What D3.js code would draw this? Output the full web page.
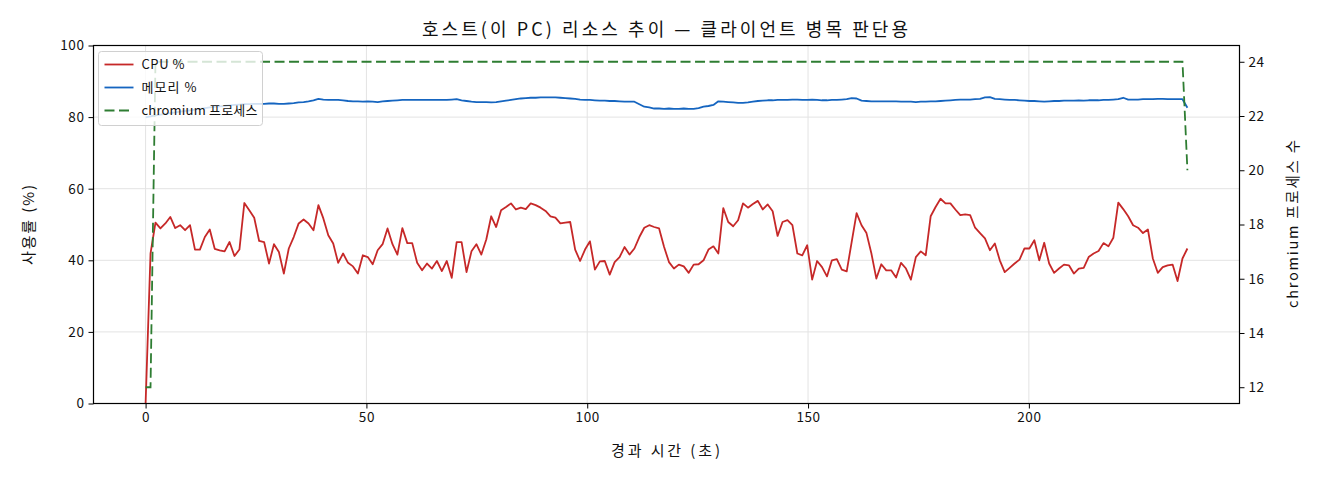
<!DOCTYPE html>
<html>
<head>
<meta charset="utf-8">
<script src="https://cdn.jsdelivr.net/npm/d3@7"></script>
<style>
  body { margin: 0; background: #fff; }
  svg { font-family: "Noto Sans CJK KR", "Noto Sans", sans-serif; }
</style>
</head>
<body>
<svg width="1320" height="480"></svg>
<script>
// seconds between samples (212 samples, 0 .. ~236 s)
let sampleInterval = 1.118;

let cpuPct = [
  0, 41.9, 50.5, 48.9, 50.3, 52.1, 49.0, 49.8, 48.4, 49.8,
  43.0, 43.0, 46.5, 48.6, 43.2, 42.8, 42.5, 45.1, 41.2, 43.0,
  56.0, 54.0, 51.9, 45.4, 45.1, 39.1, 44.5, 42.3, 36.3, 43.3,
  46.5, 50.3, 51.4, 50.3, 48.4, 55.4, 51.7, 47.0, 44.7, 39.3,
  41.9, 39.3, 38.3, 36.3, 41.4, 40.9, 38.9, 42.8, 44.5, 48.9,
  44.5, 41.6, 49.0, 44.8, 44.8, 39.3, 37.2, 39.1, 37.7, 39.8,
  37.0, 39.8, 35.1, 45.1, 45.1, 36.7, 42.5, 44.5, 41.6, 45.8,
  52.3, 49.3, 54.0, 54.9, 55.9, 54.2, 54.7, 54.3, 55.9, 55.4,
  54.7, 53.8, 52.3, 51.9, 50.3, 50.5, 50.7, 43.0, 39.8, 43.0,
  45.3, 37.4, 39.7, 39.8, 36.0, 39.5, 40.9, 43.7, 41.6, 43.3,
  46.5, 49.1, 49.8, 49.3, 48.9, 43.8, 39.5, 37.7, 38.8, 38.3,
  36.5, 38.8, 38.9, 40.0, 43.0, 43.9, 41.9, 54.6, 50.7, 49.5,
  51.2, 55.9, 54.7, 55.7, 56.6, 54.2, 55.6, 53.7, 46.8, 50.7,
  51.2, 49.8, 41.9, 41.4, 44.2, 34.6, 39.8, 38.1, 35.5, 40.0,
  40.3, 37.4, 36.9, 45.1, 53.2, 49.8, 47.6, 41.9, 34.9, 38.9,
  37.2, 37.2, 35.2, 39.3, 37.7, 34.6, 40.9, 42.5, 41.4, 52.3,
  54.9, 57.2, 55.9, 55.9, 54.2, 52.6, 52.8, 52.6, 49.1, 47.6,
  46.1, 42.8, 44.7, 40.0, 36.7, 37.9, 39.1, 40.2, 43.3, 43.3,
  45.6, 40.0, 44.9, 39.1, 36.5, 37.7, 38.8, 38.6, 36.3, 37.7,
  37.9, 40.9, 41.9, 42.6, 44.8, 43.9, 46.3, 56.1, 54.3, 52.3,
  49.8, 49.1, 47.6, 48.6, 40.5, 36.5, 38.1, 38.6, 38.8, 34.2,
  40.5, 43.3
];

let memPct = [
  79.9, 80.2, 80.5, 80.7, 80.9, 81.1, 81.3, 81.5, 81.7, 81.9,
  82.1, 82.3, 82.5, 82.7, 82.9, 83.0, 83.1, 83.3, 83.4, 83.5,
  83.6, 83.6, 83.7, 83.7, 83.7, 83.8, 83.8, 83.7, 83.7, 83.8,
  83.9, 84.1, 84.2, 84.4, 84.7, 85.1, 84.9, 84.8, 84.8, 84.8,
  84.7, 84.5, 84.4, 84.4, 84.3, 84.4, 84.3, 84.2, 84.4, 84.5,
  84.6, 84.7, 84.8, 84.8, 84.8, 84.8, 84.8, 84.8, 84.8, 84.8,
  84.8, 84.8, 84.9, 85.0, 84.7, 84.5, 84.3, 84.2, 84.2, 84.2,
  84.1, 84.2, 84.4, 84.6, 84.8, 85.0, 85.2, 85.3, 85.4, 85.4,
  85.5, 85.5, 85.5, 85.5, 85.4, 85.3, 85.2, 85.1, 84.9, 84.8,
  84.8, 84.7, 84.6, 84.6, 84.5, 84.5, 84.4, 84.3, 84.3, 84.3,
  83.6, 82.9, 82.7, 82.4, 82.4, 82.3, 82.4, 82.3, 82.3, 82.4,
  82.3, 82.3, 82.5, 82.9, 83.1, 83.4, 84.4, 84.3, 84.2, 84.1,
  84.0, 84.0, 84.1, 84.3, 84.5, 84.6, 84.7, 84.7, 84.8, 84.8,
  84.8, 84.9, 84.9, 84.8, 84.8, 84.9, 84.8, 84.7, 84.7, 84.8,
  84.8, 84.9, 85.0, 85.3, 85.2, 84.6, 84.5, 84.4, 84.4, 84.4,
  84.4, 84.4, 84.4, 84.3, 84.3, 84.3, 84.2, 84.3, 84.3, 84.4,
  84.4, 84.5, 84.6, 84.7, 84.8, 84.9, 84.9, 84.9, 85.0, 85.1,
  85.5, 85.6, 85.1, 85.0, 84.9, 84.8, 84.8, 84.7, 84.6, 84.5,
  84.5, 84.4, 84.3, 84.4, 84.5, 84.5, 84.6, 84.6, 84.6, 84.7,
  84.6, 84.7, 84.7, 84.7, 84.8, 84.8, 84.9, 85.0, 85.4, 84.9,
  84.9, 84.9, 85.0, 85.0, 85.0, 85.1, 85.1, 85.0, 85.0, 85.0,
  85.0, 82.6
];

// chromium process count only changes at these sample indices
let chromiumIdx = [0, 1, 2, 210, 211];
let chromiumCount = [12, 12, 24, 24, 20];

let xTicks = [0, 50, 100, 150, 200];
let leftTicks = [0, 20, 40, 60, 80, 100];
let rightTicks = [12, 14, 16, 18, 20, 22, 24];

let seriesNames = ["CPU %", "메모리 %", "chromium 프로세스"];
let seriesColors = ["#c62828", "#1565c0", "#2e7d32"];

let margin = {left: 93.5, right: 1239.5, top: 45.5, bottom: 403.5};

let svg = d3.select("svg");

let times = cpuPct.map((d, i) => i * sampleInterval);
let tMax = d3.max(times);

// matplotlib-like 5% padding on x and right y
let xScale = d3.scaleLinear()
    .domain([-tMax * 0.05, tMax * 1.05])
    .range([margin.left, margin.right]);

let yLeft = d3.scaleLinear()
    .domain([0, 100])
    .range([margin.bottom, margin.top]);

let cMin = d3.min(chromiumCount), cMax = d3.max(chromiumCount);
let cPad = (cMax - cMin) * 0.05;
let yRight = d3.scaleLinear()
    .domain([cMin - cPad, cMax + cPad])
    .range([margin.bottom, margin.top]);

// grid
let grid = svg.append("g").attr("stroke", "#e3e3e3").attr("stroke-width", 1);
grid.selectAll(".gx").data(xTicks).enter().append("line")
    .attr("x1", d => xScale(d)).attr("x2", d => xScale(d))
    .attr("y1", margin.top).attr("y2", margin.bottom);
grid.selectAll(".gy").data(leftTicks).enter().append("line")
    .attr("x1", margin.left).attr("x2", margin.right)
    .attr("y1", d => yLeft(d)).attr("y2", d => yLeft(d));

// lines
let pctLine = d3.line()
    .x((d, i) => xScale(times[i]))
    .y(d => yLeft(d));

svg.append("path")
    .datum(cpuPct)
    .attr("d", pctLine)
    .attr("fill", "none")
    .attr("stroke", seriesColors[0])
    .attr("stroke-width", 1.8)
    .attr("stroke-linejoin", "round");

svg.append("path")
    .datum(memPct)
    .attr("d", pctLine)
    .attr("fill", "none")
    .attr("stroke", seriesColors[1])
    .attr("stroke-width", 1.8)
    .attr("stroke-linejoin", "round");

let chromiumLine = d3.line()
    .x((d, i) => xScale(chromiumIdx[i] * sampleInterval))
    .y(d => yRight(d));

svg.append("path")
    .datum(chromiumCount)
    .attr("d", chromiumLine)
    .attr("fill", "none")
    .attr("stroke", seriesColors[2])
    .attr("stroke-width", 1.8)
    .attr("stroke-dasharray", "10,4.5");

// axes
let xAxis = d3.axisBottom(xScale).tickValues(xTicks).tickSize(5).tickPadding(4);
let gx = svg.append("g")
    .attr("transform", `translate(0, ${margin.bottom})`)
    .call(xAxis);

let yAxisL = d3.axisLeft(yLeft).tickValues(leftTicks).tickSize(5).tickPadding(4);
let gyl = svg.append("g")
    .attr("transform", `translate(${margin.left}, 0)`)
    .call(yAxisL);

let yAxisR = d3.axisRight(yRight).tickValues(rightTicks).tickSize(5).tickPadding(4);
let gyr = svg.append("g")
    .attr("transform", `translate(${margin.right}, 0)`)
    .call(yAxisR);

[gx, gyl, gyr].forEach(g => {
  g.select(".domain").remove();
  g.selectAll("line").attr("stroke", "#000").attr("stroke-width", 1);
  g.selectAll("text")
    .attr("fill", "#111")
    .style("font-size", "13.5px")
    .style("letter-spacing", "0.6px")
    .style("font-family", "'Noto Sans CJK KR', sans-serif");
});

// frame
svg.append("rect")
    .attr("x", margin.left).attr("y", margin.top)
    .attr("width", margin.right - margin.left)
    .attr("height", margin.bottom - margin.top)
    .attr("fill", "none")
    .attr("stroke", "#000")
    .attr("stroke-width", 1.2);

// legend
let legendTextWidth = [43, 55, 116];
let legend = svg.append("g").attr("transform", "translate(98.5, 51.5)");
legend.append("rect")
    .attr("width", 164).attr("height", 74)
    .attr("rx", 3)
    .attr("fill", "#fff").attr("fill-opacity", 0.8)
    .attr("stroke", "#d0d0d0");

let items = legend.selectAll(".item")
    .data(seriesNames)
    .enter().append("g")
    .attr("transform", (d, i) => `translate(0, ${13 + i * 23})`);

items.append("line")
    .attr("x1", 6).attr("x2", 35)
    .attr("stroke", (d, i) => seriesColors[i])
    .attr("stroke-width", 1.8)
    .attr("stroke-dasharray", (d, i) => i == 2 ? "10,4.5" : null);

items.append("text")
    .attr("x", 43).attr("y", 4.5)
    .style("font-size", "13px")
    .attr("fill", "#111")
    .attr("textLength", (d, i) => legendTextWidth[i])
    .attr("lengthAdjust", "spacing")
    .text(d => d);

// titles
svg.append("text")
    .attr("x", 665).attr("y", 35.5)
    .attr("text-anchor", "middle")
    .style("font-size", "18px")
    .attr("fill", "#111")
    .attr("textLength", 486)
    .attr("lengthAdjust", "spacing")
    .text("호스트(이 PC) 리소스 추이 — 클라이언트 병목 판단용");

svg.append("text")
    .attr("x", 665.5).attr("y", 456)
    .attr("text-anchor", "middle")
    .style("font-size", "15px")
    .attr("fill", "#111")
    .attr("textLength", 109)
    .attr("lengthAdjust", "spacing")
    .text("경과 시간 (초)");

svg.append("text")
    .attr("transform", `translate(33.5, 225) rotate(-90)`)
    .attr("text-anchor", "middle")
    .style("font-size", "15px")
    .attr("fill", "#111")
    .attr("textLength", 80)
    .attr("lengthAdjust", "spacing")
    .text("사용률 (%)");

svg.append("text")
    .attr("transform", `translate(1298, 224) rotate(-90)`)
    .attr("text-anchor", "middle")
    .style("font-size", "14.5px")
    .attr("fill", "#111")
    .attr("textLength", 168)
    .attr("lengthAdjust", "spacing")
    .text("chromium 프로세스 수");
</script>
</body>
</html>
